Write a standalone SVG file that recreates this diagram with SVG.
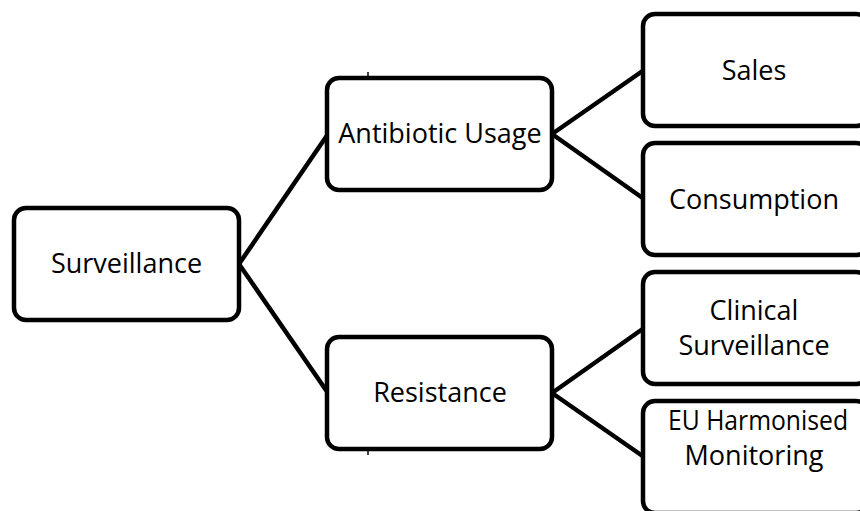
<svg xmlns="http://www.w3.org/2000/svg" width="860" height="511" viewBox="0 0 860 511">
<style>
.box{fill:#fff;stroke:#000;stroke-width:4.5}
.lbl{font-family:"Open Sans","Liberation Sans",sans-serif;font-size:27px;fill:#000;text-anchor:middle}
.con{stroke:#000;stroke-width:4.5;fill:none}
</style>
<rect width="860" height="511" fill="#fff"/>
<g id="connectors">
<line class="con" x1="239" y1="264" x2="328" y2="134"/>
<line class="con" x1="239" y1="264" x2="328" y2="393"/>
<line class="con" x1="552" y1="134" x2="644" y2="70"/>
<line class="con" x1="552" y1="134" x2="644" y2="199"/>
<line class="con" x1="552" y1="393" x2="644" y2="328"/>
<line class="con" x1="552" y1="393" x2="644" y2="457"/>
<line stroke="#000" stroke-width="1.5" x1="368" y1="72" x2="368" y2="77"/>
<line stroke="#000" stroke-width="1.5" x1="368" y1="450" x2="368" y2="455"/>
</g>
<g id="surveillance"><rect class="box" x="14" y="208" width="225" height="112" rx="12"/><text class="lbl" x="126.5" y="273">Surveillance</text></g>
<g id="antibiotic-usage"><rect class="box" x="327" y="78" width="225" height="112" rx="12"/><text class="lbl" x="440" y="143">Antibiotic Usage</text></g>
<g id="resistance"><rect class="box" x="327" y="337" width="225" height="112" rx="12"/><text class="lbl" x="440" y="402">Resistance</text></g>
<g id="sales"><rect class="box" x="643" y="14" width="225" height="112" rx="12"/><text class="lbl" x="754" y="80">Sales</text></g>
<g id="consumption"><rect class="box" x="643" y="143" width="225" height="112" rx="12"/><text class="lbl" x="754" y="209">Consumption</text></g>
<g id="clinical-surveillance"><rect class="box" x="643" y="272" width="225" height="112" rx="12"/><text class="lbl" x="754" y="320">Clinical</text><text class="lbl" x="754" y="355">Surveillance</text></g>
<g id="eu-harmonised-monitoring"><rect class="box" x="643" y="401" width="225" height="112" rx="12"/><text class="lbl" x="758" y="430" textLength="180" lengthAdjust="spacingAndGlyphs">EU Harmonised</text><text class="lbl" x="754" y="465">Monitoring</text></g>
</svg>
